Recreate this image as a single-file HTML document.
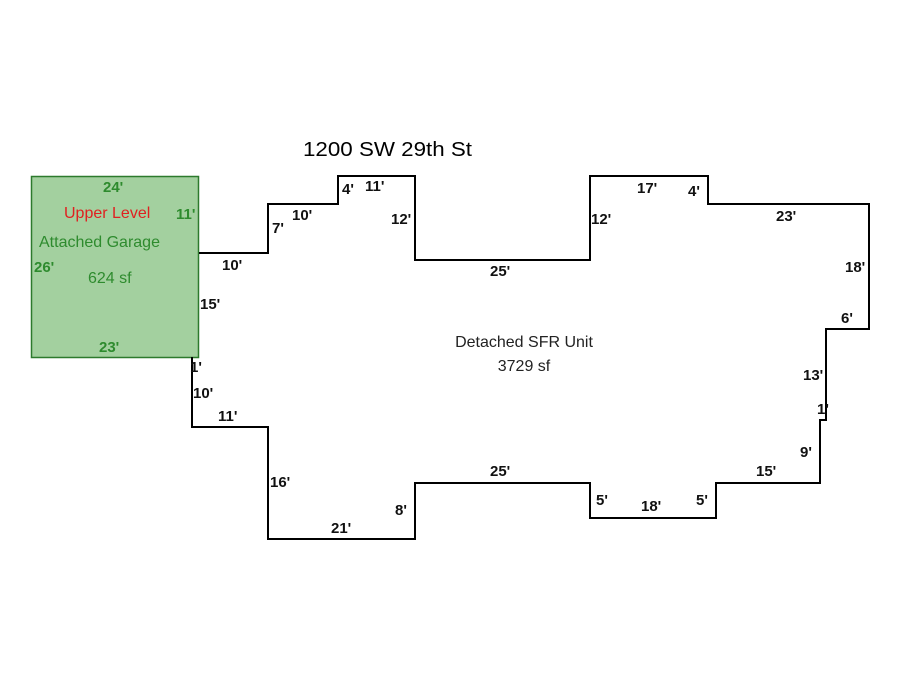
<!DOCTYPE html>
<html><head><style>
body{margin:0;background:#fff;}
</style></head><body>
<svg width="900" height="675" xmlns="http://www.w3.org/2000/svg" font-family="Liberation Sans, Arial, sans-serif">
<rect width="900" height="675" fill="#fff"/>
<rect x="31.5" y="176.5" width="167" height="181" fill="#a3d09f" stroke="#2d7a2d" stroke-width="1.5"/>
<polyline fill="none" stroke="#000" stroke-width="2" points="199,253 268,253 268,204 338,204 338,176 415,176 415,260 590,260 590,176 708,176 708,204 869,204 869,329 826,329 826,420 820,420 820,483 716,483 716,518 590,518 590,483 415,483 415,539 268,539 268,427 192,427 192,357"/>
<text x="303" y="156" font-size="20" fill="#000" textLength="169" lengthAdjust="spacingAndGlyphs">1200 SW 29th St</text>
<g font-size="15" font-weight="bold" fill="#2e8b2e">
<text x="103" y="192">24'</text>
<text x="176" y="219">11'</text>
<text x="34" y="272">26'</text>
<text x="99" y="352">23'</text>
</g>
<text x="64" y="218" font-size="16" fill="#e02020">Upper Level</text>
<text x="39" y="247" font-size="16" fill="#2e8b2e">Attached Garage</text>
<text x="88" y="283" font-size="16" fill="#2e8b2e">624 sf</text>
<text x="524" y="347" font-size="16" fill="#222" text-anchor="middle">Detached SFR Unit</text>
<text x="524" y="371" font-size="16" fill="#222" text-anchor="middle">3729 sf</text>
<g font-size="15" font-weight="bold" fill="#111">
<text x="222" y="270">10'</text>
<text x="272" y="233">7'</text>
<text x="292" y="220">10'</text>
<text x="342" y="194">4'</text>
<text x="365" y="191">11'</text>
<text x="391" y="224">12'</text>
<text x="490" y="276">25'</text>
<text x="591" y="224">12'</text>
<text x="637" y="193">17'</text>
<text x="688" y="196">4'</text>
<text x="776" y="221">23'</text>
<text x="845" y="272">18'</text>
<text x="841" y="323">6'</text>
<text x="803" y="380">13'</text>
<text x="817" y="414">1'</text>
<text x="800" y="457">9'</text>
<text x="756" y="476">15'</text>
<text x="696" y="505">5'</text>
<text x="641" y="511">18'</text>
<text x="596" y="505">5'</text>
<text x="490" y="476">25'</text>
<text x="395" y="515">8'</text>
<text x="331" y="533">21'</text>
<text x="270" y="487">16'</text>
<text x="218" y="421">11'</text>
<text x="193" y="398">10'</text>
<text x="190" y="372">1'</text>
<text x="200" y="309">15'</text>
</g>
</svg>
</body></html>
